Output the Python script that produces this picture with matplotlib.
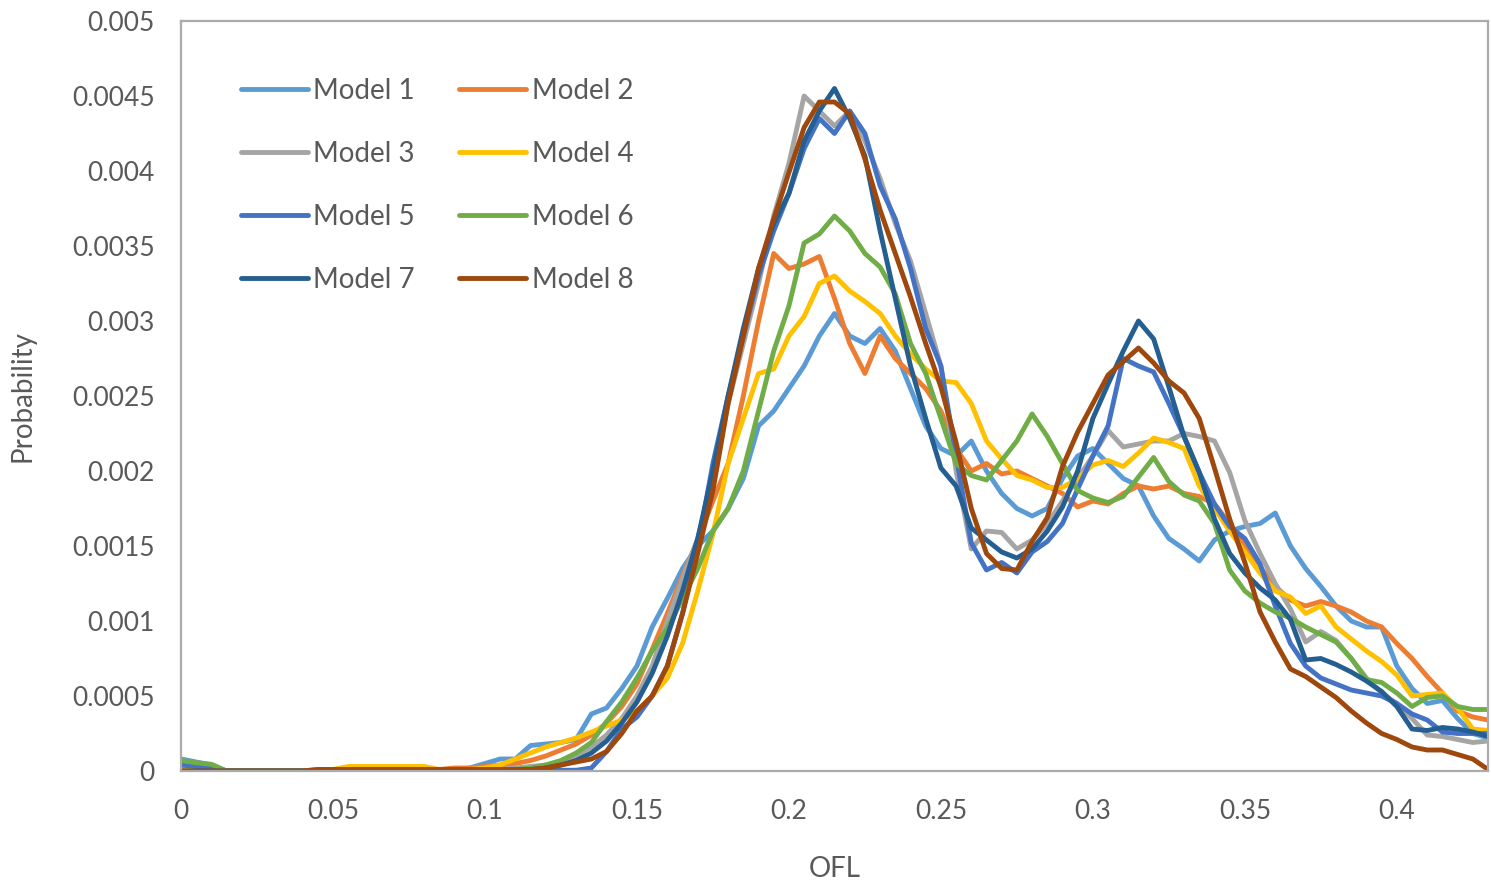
import numpy as np
import matplotlib
matplotlib.use('Agg')
import matplotlib.pyplot as plt

# OFL grid, 0 to 0.43 in steps of 0.005
ofl = np.round(np.arange(87) * 0.005, 3)

# probability values, in units of 1e-4
model_1 = [0.8, 0.6, 0.4, 0, 0, 0, 0, 0, 0, 0,
           0, 0, 0, 0, 0, 0, 0, 0, 0.1, 0.2,
           0.5, 0.8, 0.8, 1.7, 1.8, 1.9, 2.1, 3.8, 4.2, 5.5,
           7.0, 9.6, 11.5, 13.5, 15.0, 16.0, 17.5, 19.5, 23.0, 24.0,
           25.5, 27.0, 29.0, 30.5, 29.0, 28.5, 29.5, 28.0, 25.5, 23.0,
           21.5, 21.0, 22.0, 20.0, 18.5, 17.5, 17.0, 17.5, 19.5, 21.0,
           21.5, 20.5, 19.5, 19.0, 17.0, 15.5, 14.8, 14.0, 15.4, 16.0,
           16.3, 16.5, 17.2, 15.0, 13.5, 12.3, 11.0, 10.0, 9.6, 9.6,
           7.0, 5.5, 4.5, 4.7, 3.5, 2.5, 2.2]
model_2 = [0, 0, 0, 0, 0, 0, 0, 0, 0, 0.1,
           0.1, 0.1, 0.1, 0.1, 0.1, 0.1, 0.1, 0.1, 0.2, 0.2,
           0.3, 0.4, 0.5, 0.7, 1.0, 1.4, 1.8, 2.4, 3.2, 4.3,
           5.8, 8.1, 10.5, 13.0, 15.4, 18.0, 20.5, 25.0, 30.0, 34.5,
           33.5, 33.8, 34.3, 31.5, 28.5, 26.5, 29.0, 27.5, 26.5, 25.5,
           24.0, 21.5, 20.0, 20.5, 19.8, 20.0, 19.5, 19.0, 18.5, 17.6,
           18.0, 17.8, 18.5, 19.0, 18.8, 19.0, 18.5, 18.3, 17.8, 16.5,
           15.0, 13.6, 12.3, 11.4, 11.0, 11.3, 11.0, 10.6, 10.0, 9.6,
           8.5, 7.5, 6.3, 5.2, 4.0, 3.6, 3.4]
model_3 = [0, 0, 0, 0, 0, 0, 0, 0, 0, 0,
           0, 0, 0, 0, 0, 0, 0, 0, 0, 0.05,
           0.1, 0.1, 0.2, 0.3, 0.4, 0.6, 1.0, 1.6, 2.4, 3.5,
           5.0, 7.0, 10.0, 12.8, 15.5, 19.5, 24.5, 28.5, 32.5, 37.0,
           40.5, 45.0, 44.0, 43.0, 44.0, 42.0, 39.5, 36.5, 34.0, 30.5,
           27.0, 20.0, 14.8, 16.0, 15.9, 14.8, 15.4, 16.5, 18.0, 19.5,
           21.0, 22.7, 21.6, 21.8, 22.0, 22.0, 22.5, 22.3, 22.0, 19.9,
           16.7, 14.5, 12.5, 10.8, 8.6, 9.3, 8.7, 7.5, 6.2, 5.2,
           4.5, 3.5, 2.4, 2.3, 2.1, 1.9, 2.0]
model_4 = [0.2, 0.15, 0.1, 0, 0, 0, 0, 0, 0, 0,
           0.1, 0.3, 0.3, 0.3, 0.3, 0.3, 0.3, 0.1, 0.1, 0.1,
           0.2, 0.4, 0.8, 1.2, 1.6, 1.9, 2.2, 2.6, 3.0, 3.4,
           4.0, 5.0, 6.2, 8.5, 12.0, 15.8, 20.5, 23.5, 26.5, 26.8,
           29.0, 30.3, 32.5, 33.0, 32.0, 31.3, 30.5, 29.0, 27.8, 26.8,
           26.0, 25.9, 24.5, 22.0, 20.8, 19.7, 19.4, 18.9, 18.9, 19.5,
           20.4, 20.7, 20.3, 21.2, 22.2, 21.9, 21.5, 19.0, 17.5, 16.0,
           14.6, 13.2, 12.0, 11.6, 10.5, 11.0, 9.6, 8.8, 8.0, 7.3,
           6.4, 5.0, 5.1, 5.2, 4.2, 2.8, 2.7]
model_5 = [0.4, 0.3, 0.2, 0, 0, 0, 0, 0, 0, 0,
           0, 0, 0, 0, 0, 0, 0, 0, 0, 0,
           0, 0, 0, 0, 0, 0.05, 0.05, 0.2, 1.3, 2.8,
           3.6, 5.0, 7.0, 10.5, 15.0, 20.5, 25.0, 29.0, 33.0, 36.0,
           38.5, 41.5, 43.5, 42.5, 44.0, 42.5, 39.0, 36.8, 33.5, 29.5,
           27.0, 21.0, 15.2, 13.4, 13.9, 13.2, 14.6, 15.3, 16.5, 18.8,
           21.0, 23.0, 27.5, 27.0, 26.6, 24.5, 22.3, 19.9, 17.8, 16.3,
           15.5, 13.8, 11.0, 8.5, 7.0, 6.2, 5.8, 5.4, 5.2, 5.0,
           4.5, 3.8, 3.4, 2.6, 2.5, 2.5, 2.5]
model_6 = [0.7, 0.55, 0.45, 0, 0, 0, 0, 0, 0, 0,
           0, 0, 0, 0, 0, 0, 0, 0, 0, 0,
           0, 0.05, 0.1, 0.2, 0.4, 0.7, 1.2, 1.9, 3.3, 4.6,
           6.2, 8.0, 9.5, 11.5, 13.5, 16.0, 17.5, 20.0, 24.0, 28.0,
           31.0, 35.2, 35.8, 37.0, 36.0, 34.5, 33.6, 31.8, 28.5, 26.5,
           23.5, 20.5, 19.7, 19.4, 20.7, 22.0, 23.8, 22.3, 20.5, 18.7,
           18.2, 17.9, 18.3, 19.6, 20.9, 19.3, 18.4, 18.0, 16.5, 13.4,
           12.0, 11.2, 10.6, 10.2, 9.6, 9.1, 8.6, 7.5, 6.1, 5.9,
           5.2, 4.3, 4.9, 5.0, 4.3, 4.1, 4.1]
model_7 = [0, 0, 0, 0, 0, 0, 0, 0, 0, 0,
           0, 0, 0, 0, 0, 0, 0, 0, 0, 0,
           0, 0, 0.05, 0.1, 0.2, 0.4, 0.7, 1.2, 2.0, 3.2,
           4.6, 6.5, 9.0, 12.0, 15.5, 20.0, 25.0, 29.5, 33.5, 36.5,
           38.5, 42.0, 44.0, 45.5, 43.5, 41.0, 36.0, 31.5, 27.0, 23.5,
           20.2, 19.0, 16.2, 15.4, 14.6, 14.2, 14.8, 16.0, 17.6, 20.0,
           23.5, 25.8, 28.0, 30.0, 28.8, 25.6, 22.3, 19.9, 16.8, 14.5,
           13.2, 12.2, 11.4, 10.1, 7.4, 7.5, 7.1, 6.6, 6.0, 5.3,
           4.3, 2.8, 2.7, 2.9, 2.8, 2.6, 2.3]
model_8 = [0, 0, 0, 0, 0, 0, 0, 0, 0, 0.1,
           0.1, 0.1, 0.1, 0.1, 0.1, 0.1, 0.1, 0.1, 0.1, 0.1,
           0.1, 0.1, 0.1, 0.1, 0.2, 0.4, 0.6, 0.8, 1.3, 2.5,
           4.0, 5.0, 7.0, 10.5, 14.5, 18.7, 24.5, 29.0, 33.5, 36.8,
           39.9, 42.9, 44.6, 44.6, 43.8, 40.8, 37.4, 34.5, 31.6, 28.5,
           25.6, 21.9, 17.5, 14.5, 13.5, 13.4, 15.3, 16.9, 20.3, 22.6,
           24.5, 26.4, 27.3, 28.2, 27.2, 26.0, 25.2, 23.5, 20.2, 16.8,
           13.9, 10.6, 8.6, 6.8, 6.3, 5.6, 4.9, 4.0, 3.2, 2.5,
           2.1, 1.6, 1.4, 1.4, 1.1, 0.8, 0.1]

labels = ['Model 1', 'Model 2', 'Model 3', 'Model 4',
          'Model 5', 'Model 6', 'Model 7', 'Model 8']
colors = ['#5B9BD5', '#ED7D31', '#A5A5A5', '#FFC000',
          '#4472C4', '#70AD47', '#255E91', '#9E480E']
series = [model_1, model_2, model_3, model_4, model_5, model_6, model_7, model_8]

xticks = [0, 0.05, 0.1, 0.15, 0.2, 0.25, 0.3, 0.35, 0.4]
yticks = [0, 0.0005, 0.001, 0.0015, 0.002, 0.0025, 0.003, 0.0035, 0.004, 0.0045, 0.005]

plt.rcParams['font.family'] = ['Lato', 'DejaVu Sans']
text_color = '#595959'

fig = plt.figure(figsize=(14.91, 8.86), dpi=100)
ax = fig.add_axes([0.1214, 0.1298, 0.8766, 0.8465])

lines = []
for vals, lab, col in zip(series, labels, colors):
    ln, = ax.plot(ofl, np.array(vals) * 1e-4, color=col, lw=3.5, label=lab,
                  solid_joinstyle='round', solid_capstyle='round')
    lines.append(ln)

ax.set_xlim(0, 0.43)
ax.set_ylim(0, 0.005)
ax.set_xticks(xticks)
ax.set_xticklabels(['{:g}'.format(v) for v in xticks])
ax.set_yticks(yticks)
ax.set_yticklabels(['{:g}'.format(v) for v in yticks])
ax.tick_params(axis='both', length=0, labelsize=19, colors=text_color)
ax.tick_params(axis='x', pad=20)
ax.tick_params(axis='y', pad=19)

for sp in ax.spines.values():
    sp.set_color('#ABABAB')
    sp.set_linewidth(1.6)

ax.set_xlabel('OFL', fontsize=20, color=text_color, labelpad=23)
ax.set_ylabel('Probability', fontsize=20, color=text_color, labelpad=26)

# row-wise legend order: 1 2 / 3 4 / 5 6 / 7 8
order = [0, 2, 4, 6, 1, 3, 5, 7]
leg = ax.legend([lines[i] for i in order], [labels[i] for i in order],
                ncol=2, frameon=False, fontsize=20, loc='upper left',
                bbox_to_anchor=(0.046, 0.924), borderaxespad=0, borderpad=0,
                handlelength=2.4, handletextpad=0.2, columnspacing=1.6,
                labelspacing=1.33)
for t in leg.get_texts():
    t.set_color(text_color)

fig.savefig('out.png', dpi=100)
